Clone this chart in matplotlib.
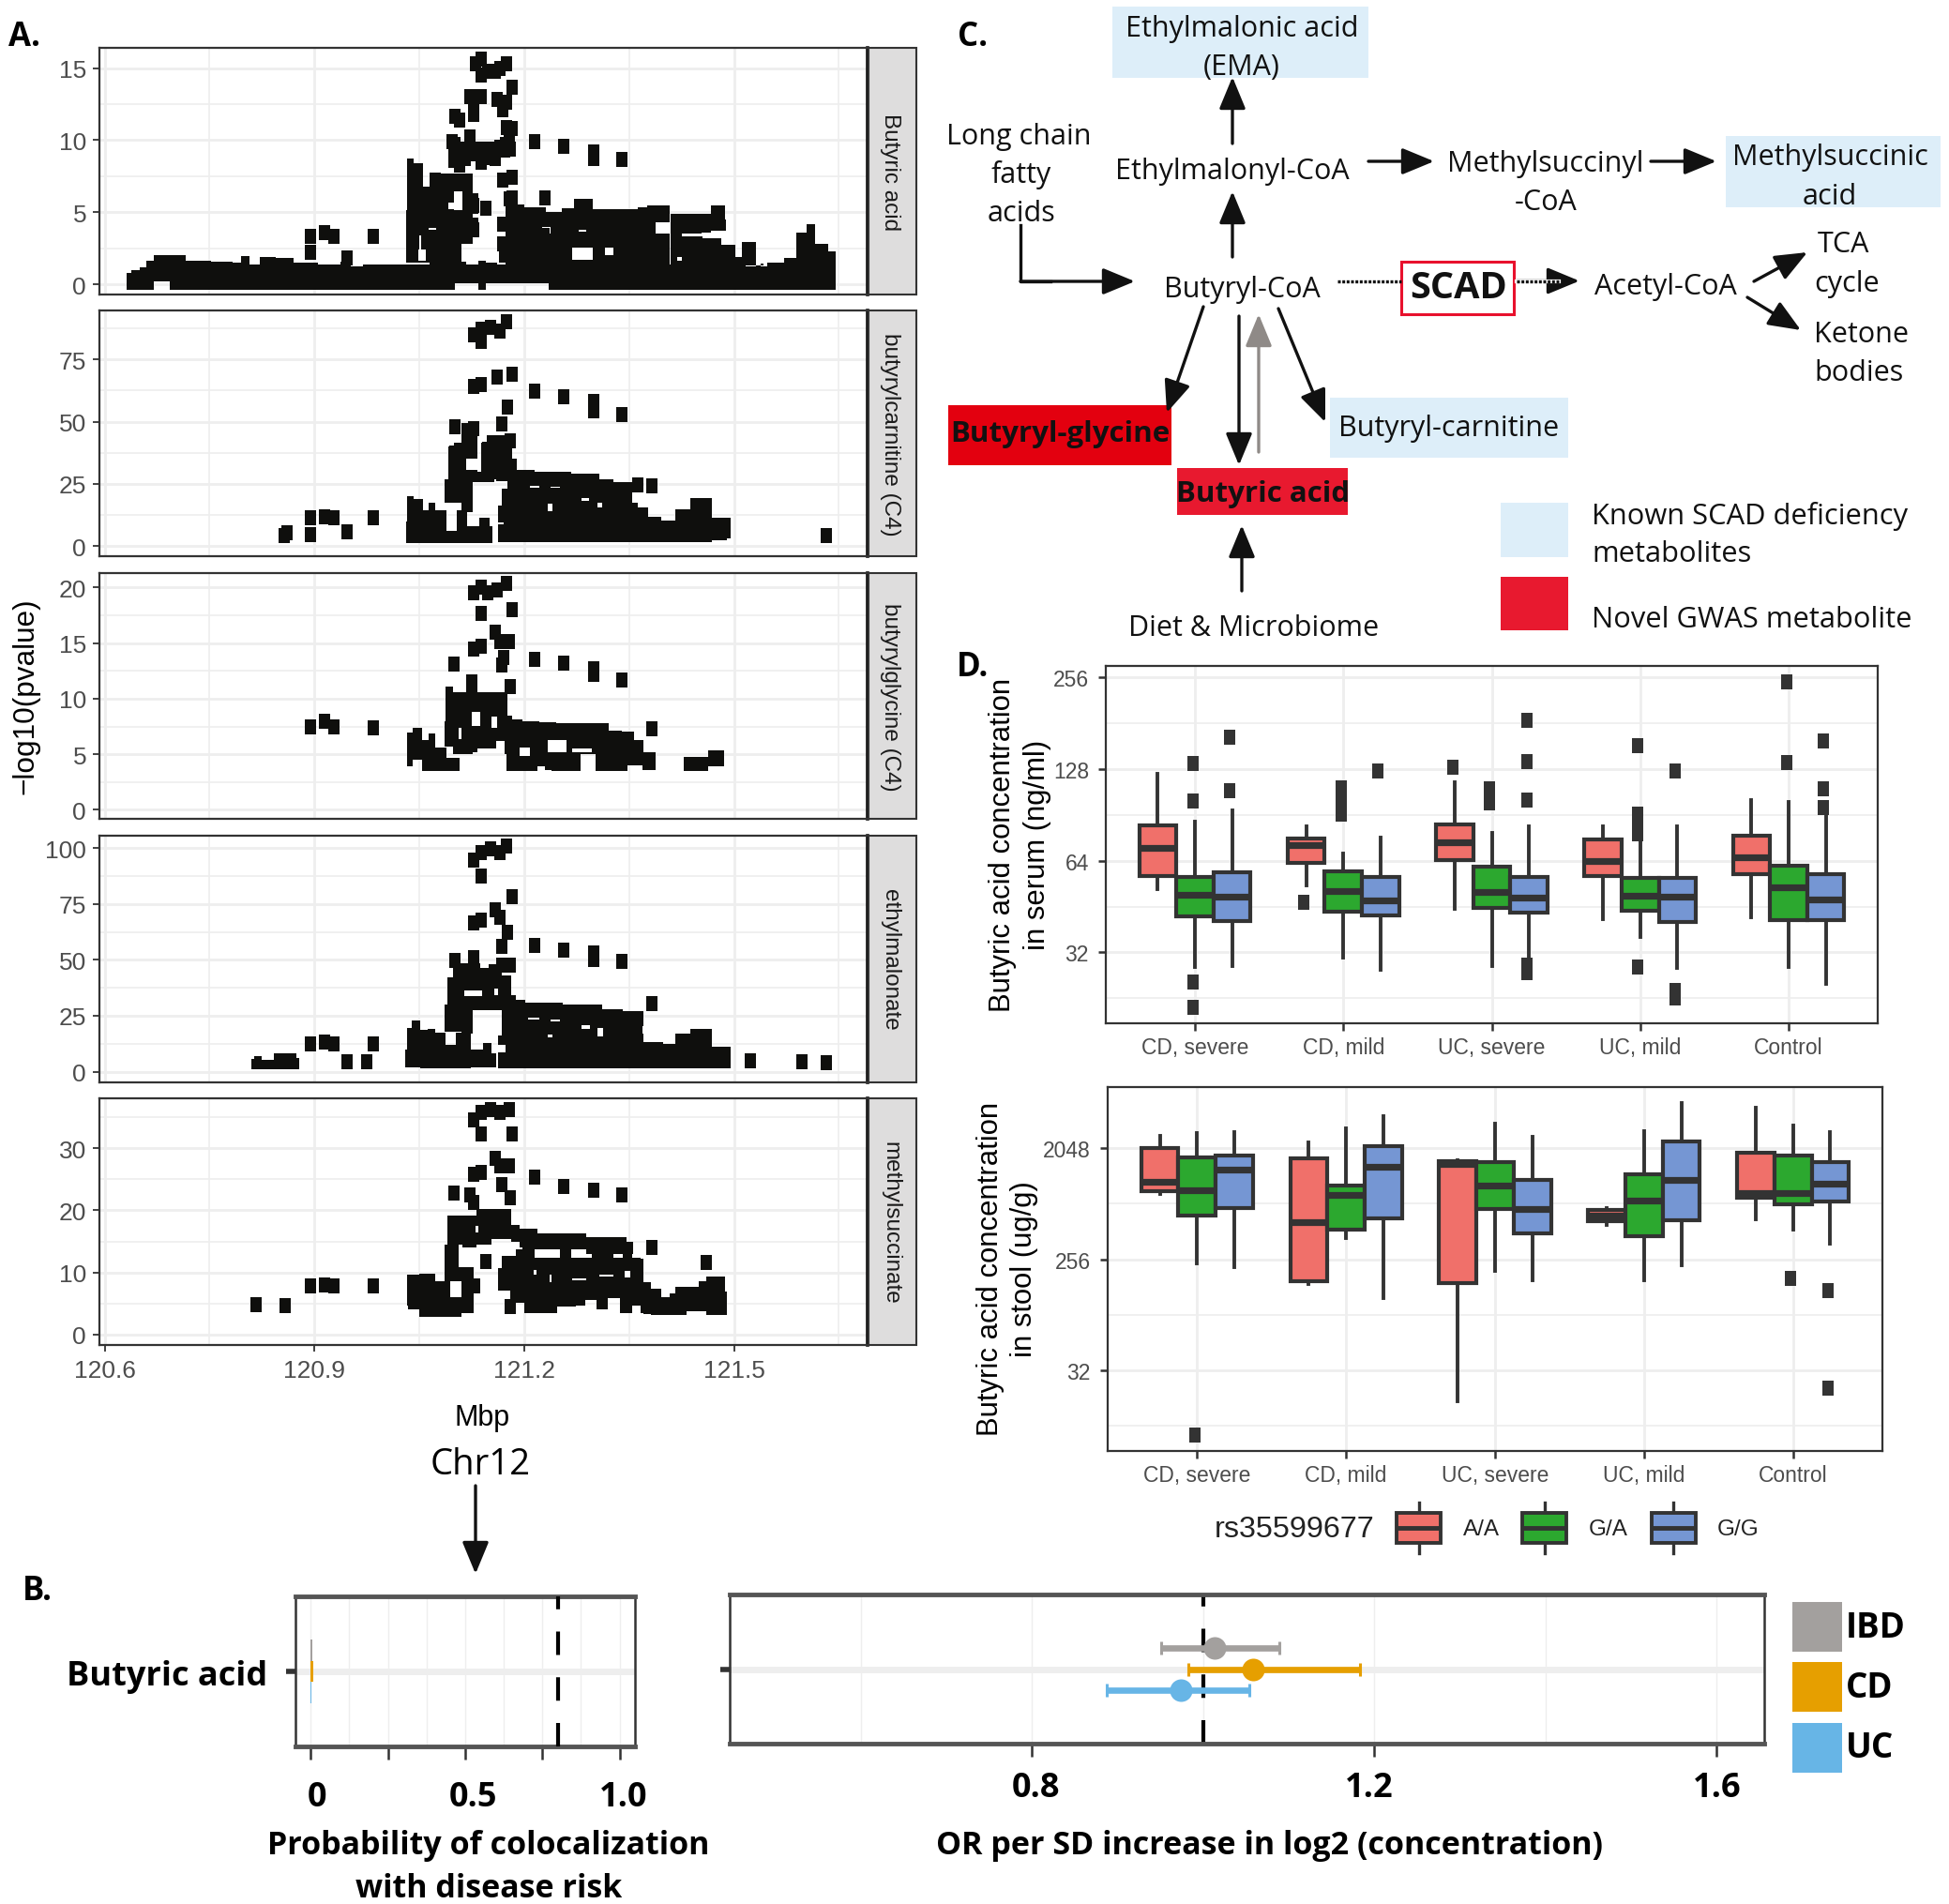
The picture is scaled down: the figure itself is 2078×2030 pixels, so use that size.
import matplotlib
matplotlib.use("Agg")
import matplotlib.pyplot as plt
from matplotlib.patches import FancyArrowPatch, Rectangle

W, H = 2078, 2031
INK = "#0f0f0d"
DARK = "#333333"
GRID = "#eeeeee"
TICK_GRAY = "#4d4d4d"
SANS = "Liberation Sans"
DIAG = "Open Sans"
# tall rectangle used as the point shape in panels A and D
MARK = [(-0.37, -0.5), (0.37, -0.5), (0.37, 0.5), (-0.37, 0.5), (-0.37, -0.5)]

# ---------- panel A: single points that can be told apart ----------
strip_names = ["Butyric acid", "butyrylcarnitine (C4)", "butyrylglycine (C4)", "ethylmalonate", "methylsuccinate"]

p1_x = [121.131, 121.138, 121.138, 121.148, 121.159, 121.165, 121.174, 121.182, 121.122, 121.138, 121.128, 121.128,
        121.161, 121.174, 121.169, 121.101, 121.108, 121.097, 121.101, 121.108, 121.122, 121.127, 121.138, 121.152,
        121.165, 121.178, 121.182, 121.174, 121.159, 121.138, 121.115, 121.145, 121.172, 121.18, 121.169, 121.182,
        121.182, 121.178, 121.23, 121.145, 121.127, 121.127, 121.118, 121.169, 121.169, 121.172, 121.073,
        121.215, 121.256, 121.30, 121.30, 121.339, 120.8945, 120.914, 120.928, 120.984, 120.8945, 120.947]
p1_y = [15.27, 15.65, 14.5, 14.75, 14.75, 15.0, 15.27, 13.7, 13.0, 13.0, 12.3, 11.8,
        12.8, 12.6, 12.1, 11.67, 11.4, 9.9, 9.2, 8.3, 10.25, 9.2, 9.0, 9.1,
        9.5, 9.9, 10.8, 10.9, 8.7, 8.45, 8.7, 9.3, 9.3, 9.4, 7.2, 7.4,
        6.0, 5.9, 6.0, 5.25, 5.5, 3.8, 3.3, 4.2, 2.8, 2.0, 7.2,
        9.87, 9.56, 9.2, 8.7, 8.66, 3.3, 3.57, 3.3, 3.3, 2.2, 1.8]

p2_x = [121.127, 121.138, 121.139, 121.152, 121.165, 121.174, 121.127, 121.138, 121.161, 121.182, 121.215, 121.256,
        121.30, 121.30, 121.339, 121.176, 121.168, 121.101, 121.127, 121.122, 121.101, 121.109, 121.148, 121.161,
        121.18, 121.169, 120.8945, 120.8945,
        120.857, 120.861, 120.914, 120.928, 120.947, 120.984, 121.632, 121.362, 121.382]
p2_y = [85, 82, 87.2, 88, 86.5, 90.2, 64.1, 64.9, 67.9, 69, 62.4, 60.1,
        58.2, 54.5, 52.7, 56, 49, 47.8, 47, 41, 37.4, 33.6, 38.8, 40.3,
        42.3, 33.6, 11.3, 4.6,
        4.3, 5.4, 11.75, 11.3, 5.7, 11.3, 4.3, 24.7, 24.4]

p3_x = [121.127, 121.138, 121.138, 121.148, 121.161, 121.174, 121.182, 121.159, 121.165, 121.178, 121.127, 121.138,
        121.17, 121.168, 121.099, 121.18, 121.215, 121.256, 121.30, 121.30, 121.339, 121.382, 120.8945, 120.914,
        120.928, 120.984]
p3_y = [19.5, 20, 17.7, 19.5, 19.8, 20.4, 18, 16, 15.1, 15.1, 14.5, 14.7,
        13.7, 13, 13.1, 11.1, 13.5, 13.2, 12.7, 12.2, 11.7, 7.3, 7.5, 8,
        7.5, 7.4]

p4_x = [121.127, 121.138, 121.138, 121.152, 121.165, 121.174, 121.182, 121.159, 121.165, 121.127, 121.138, 121.176,
        121.168, 121.101, 121.127, 121.18, 121.168, 121.215, 121.256, 121.30, 121.30, 121.339, 121.382, 121.362,
        120.8945, 120.914, 120.928, 120.984, 120.947, 120.975, 121.523, 121.597, 121.632]
p4_y = [94.5, 97.9, 87.6, 99.5, 98, 100.7, 78.2, 72.2, 69.2, 66.4, 67.6, 62.3,
        55.9, 49.7, 50.8, 47.8, 47.8, 56.6, 54.3, 53, 50.3, 49.4, 30.6, 23.7,
        12.4, 13.3, 12.2, 12.4, 4.4, 4.4, 4.8, 4.4, 4.1]

p5_x = [121.127, 121.138, 121.138, 121.152, 121.165, 121.178, 121.182, 121.159, 121.165, 121.178, 121.127, 121.138,
        121.168, 121.215, 121.256, 121.30, 121.339, 121.18, 121.099, 121.122, 121.127, 121.382, 121.46, 121.145,
        121.18, 120.817, 120.858, 120.8945, 120.914, 120.928, 120.984]
p5_y = [34.5, 35.8, 32.3, 36.2, 35.8, 36.2, 32.3, 28.3, 27.1, 27.1, 25.8, 26.1,
        24.2, 25.4, 23.9, 23.2, 22.4, 22, 22.8, 22.5, 21.3, 14, 11.6, 11.8,
        4.5, 4.8, 4.6, 7.8, 8, 7.8, 7.9]

# ---------- panel A: merged masses of points, as x / low edge / high edge ----------
p1_mass = [
    ([120.632, 120.645, 120.655, 120.665, 120.675, 120.71, 120.722, 120.745, 120.76, 120.775, 120.79, 120.80, 120.815,
      120.83, 120.86, 120.88, 120.93, 120.945, 120.96, 120.98, 121.03, 121.098, 121.104, 121.13, 121.138, 121.152,
      121.17, 121.3, 121.4, 121.5, 121.533, 121.563, 121.58, 121.597, 121.61, 121.623, 121.646],
     [-0.39, -0.39, -0.39, -0.39, 0.2, -0.39, -0.39, -0.39, -0.39, -0.39, -0.39, -0.39, -0.39,
      -0.39, -0.39, -0.39, -0.39, -0.39, -0.39, -0.39, -0.39, -0.39, 0.1, 0.1, -0.39, 0.05,
      0.05, -0.39, -0.39, -0.39, -0.39, -0.39, -0.39, -0.39, -0.39, -0.39, -0.39],
     [0.8, 0.95, 1.2, 1.6, 2.0, 2.0, 1.6, 1.65, 1.55, 1.55, 1.5, 1.95, 1.4,
      1.9, 1.85, 1.5, 1.35, 1.55, 1.25, 1.4, 1.4, 1.5, 1.56, 1.4, 1.66, 1.5,
      1.4, 1.4, 1.4, 1.3, 1.23, 1.5, 1.8, 3.6, 4.2, 2.8, 2.3]),
    ([121.031, 121.034, 121.05, 121.061, 121.092, 121.11],
     [1.5, 1.5, 1.5, 1.5, 1.5, 1.5],
     [5.13, 8.7, 8.4, 6.75, 7.7, 7.7]),
    ([121.11, 121.126], [3.1, 3.1], [7.7, 7.7]),
    ([121.126, 121.135], [4.9, 4.9], [6.3, 6.3]),
    ([121.126, 121.135], [3.6, 3.6], [4.6, 4.6]),
    ([121.092, 121.125, 121.15, 121.18], [8.1, 8.5, 8.3, 9], [10.2, 9.9, 9.9, 10.2]),
    ([121.173, 121.193, 121.206, 121.22, 121.242, 121.2645, 121.278, 121.291, 121.305, 121.354, 121.372, 121.3787,
      121.4078],
     [1.3] * 13,
     [5.9, 5.56, 5.35, 5.35, 5.0, 5.28, 5.9, 5.9, 5.2, 5.2, 5.35, 5.45, 5.45]),
    ([121.41, 121.441, 121.466, 121.468, 121.486, 121.488],
     [3.5, 3.5, 3.6, 3.7, 3.7, 3.7],
     [4.9, 4.9, 4.9, 5.45, 5.45, 4.5]),
    ([121.41, 121.441, 121.468, 121.495, 121.508, 121.515, 121.531, 121.533, 121.542],
     [1.3] * 9,
     [3.5, 3.3, 3.2, 2.75, 1.9, 2.96, 2.96, 1.23, 1.45]),
]
p1_holes = [(121.099, 121.112, 5.13, 6.43), (121.091, 121.106, 5.24, 5.67), (121.05, 121.052, 1.6, 3.4),
            (121.048, 121.059, 1.6, 2.4), (121.388, 121.41, 3.5, 4.33), (121.269, 121.298, 1.67, 2.53),
            (121.316, 121.327, 2.0, 2.53), (121.419, 121.425, 1.62, 1.88), (121.226, 121.237, 3.9, 4.0),
            (121.236, 121.238, 3.5, 4.0), (121.278, 121.289, 3.68, 3.78), (121.063, 121.074, 3.78, 3.88)]

p2_mass = [
    ([121.031, 121.034, 121.05, 121.061, 121.0655, 121.081, 121.097, 121.11, 121.126, 121.146, 121.155],
     [1.3] * 11,
     [10, 20.1, 18.8, 14.4, 17.3, 14.4, 6.3, 14.4, 8.2, 11.3, 8]),
    ([121.0856, 121.112], [17.6, 17.6], [27, 27]),
    ([121.11, 121.126], [13.8, 13.8], [27, 27]),
    ([121.11, 121.14, 121.175], [25.7, 25.7, 26.9], [30, 30, 30]),
    ([121.092, 121.106, 121.1146, 121.1326], [27, 27, 27, 27], [40.2, 41.4, 49.6, 49.6]),
    ([121.139, 121.153, 121.182], [30, 30, 34.5], [41.4, 44.5, 44.5]),
    ([121.16, 121.19], [26, 26], [35, 35]),
    ([121.162, 121.173, 121.18, 121.193, 121.238, 121.296, 121.318, 121.336, 121.354],
     [1.5] * 9,
     [16.3, 23.2, 31, 30.5, 29.9, 29.1, 27, 25.7, 25.7]),
    ([121.354, 121.372, 121.383, 121.41, 121.423, 121.452, 121.484, 121.495],
     [1.5, 1.5, 1.5, 1.5, 1.5, 1.5, 2.5, 3],
     [17.6, 15.7, 11.9, 10.3, 15, 19.5, 11.3, 11.3]),
]
p2_holes = [(121.117, 121.135, 30.8, 35.1), (121.233, 121.24, 14, 17), (121.282, 121.293, 18.3, 19.2),
            (121.305, 121.312, 15.7, 17.3), (121.162, 121.17, 8.9, 9.5), (121.2086, 121.222, 23.6, 24.2),
            (121.2375, 121.251, 23.5, 24)]

p3_mass = [
    ([121.032, 121.034, 121.0476, 121.061, 121.0655, 121.081, 121.097, 121.108],
     [3.9, 3.9, 4.54, 3.47, 3.47, 3.47, 3.47, 3.47],
     [5.44, 6.98, 7.4, 6.3, 6.85, 5.6, 4.7, 4.7]),
    ([121.0856, 121.09, 121.1057, 121.1124, 121.121, 121.1326, 121.1348, 121.1527, 121.168, 121.175],
     [5.7, 5.7, 5, 5, 5, 5.2, 5.5, 5.5, 6.2, 5],
     [8, 11.07, 10.6, 10.6, 12.2, 12.2, 10.6, 10.6, 10.6, 10.6]),
    ([121.175, 121.1773, 121.1885, 121.206, 121.2377, 121.253, 121.318, 121.3227, 121.356, 121.3585, 121.3697,
      121.372, 121.3876],
     [5] * 13,
     [10.6, 8.5, 8.17, 7.97, 7.9, 7.83, 7.83, 7.1, 7.05, 6.3, 6.3, 5.1, 5.1]),
    ([121.175, 121.2153, 121.222, 121.2377, 121.24, 121.2668, 121.2936, 121.3115, 121.343, 121.3518, 121.3876],
     [3.47, 3.47, 3.9, 3.6, 3.53, 3.53, 5, 3.47, 3.47, 4, 3.6],
     [5.2] * 11),
    ([121.428, 121.461, 121.466, 121.486], [3.53, 3.53, 3.9, 3.9], [4.74, 4.74, 5.35, 5.35]),
]
p3_holes = [(121.125, 121.137, 7.55, 8.8), (121.1527, 121.1617, 7.4, 8.4), (121.193, 121.2086, 4.82, 5.6),
            (121.233, 121.26, 5.16, 6.28), (121.269, 121.296, 5.16, 5.5), (121.106, 121.11, 6.4, 7.4)]

p4_mass = [
    ([120.81, 120.818, 120.831, 120.853, 120.87, 120.878], [0.9] * 6, [5.5, 7.1, 5.3, 8.3, 8.3, 6]),
    ([121.03, 121.0352, 121.043, 121.0588, 121.0655, 121.081, 121.0945, 121.11, 121.137, 121.146, 121.1595],
     [2, 2, 2, 1.5, 1.5, 1.5, 1.5, 1.5, 2, 2, 2],
     [10, 19.7, 22.8, 18.8, 19.3, 17.6, 12, 17.6, 10, 12.7, 8]),
    ([121.0856, 121.11], [18, 18], [30.2, 30.2]),
    ([121.11, 121.126], [17, 17], [30, 30]),
    ([121.09, 121.106, 121.1348, 121.139, 121.1595, 121.175, 121.1885],
     [27.4, 27.4, 27.4, 27.4, 27.4, 27.4, 27.4],
     [42, 48.3, 48.3, 46.2, 48, 43, 34]),
    ([121.162, 121.173, 121.1885, 121.2155, 121.296, 121.327, 121.354, 121.3697],
     [1.5] * 8,
     [16, 29.5, 32.3, 30.9, 29.8, 27.8, 27, 26]),
    ([121.354, 121.3877, 121.41, 121.423, 121.452, 121.484, 121.495],
     [1.5] * 7,
     [16.9, 13.4, 12.4, 16.9, 19.3, 11.3, 11.3]),
]
p4_holes = [(121.1147, 121.1393, 33.7, 36.5), (121.157, 121.1625, 34.4, 37), (121.206, 121.222, 23.2, 24),
            (121.2377, 121.251, 22.5, 23.5), (121.2825, 121.2937, 19, 20.8), (121.305, 121.313, 15.8, 19.7),
            (121.233, 121.24, 15.2, 16.5), (121.1617, 121.173, 8.8, 12)]

p5_mass = [
    ([121.032, 121.036, 121.065, 121.081], [4.6, 4.1, 2.9, 2.9], [9.67, 9.67, 9.8, 8.66]),
    ([121.0945, 121.11], [8.66, 8.66], [10.9, 10.9]),
    ([121.0945, 121.11], [2.9, 2.9], [6.1, 6.1]),
    ([121.081, 121.0945], [2.9, 2.9], [8.66, 8.66]),
    ([121.0856, 121.0945], [8.5, 8.5], [10.9, 10.9]),
    ([121.11, 121.128], [3.5, 3.5], [10.9, 10.9]),
    ([121.128, 121.137], [6.6, 6.6], [9, 9]),
    ([121.0856, 121.106], [10.9, 10.9], [14.5, 14.5]),
    ([121.09, 121.132, 121.1326, 121.173, 121.1885, 121.197],
     [14.5, 14, 14.5, 15.4, 15, 14],
     [19.2, 19.2, 20.2, 20.2, 17.7, 17]),
    ([121.197, 121.242, 121.336, 121.356], [13.7, 13.7, 13.0, 12.9], [17, 16.3, 15.7, 15]),
    ([121.162, 121.175, 121.184, 121.193, 121.206, 121.2243, 121.269, 121.279, 121.296, 121.3115, 121.327, 121.347,
      121.363, 121.3697, 121.372, 121.39, 121.403, 121.412, 121.421, 121.444, 121.455, 121.466, 121.484, 121.49],
     [7.15, 7.15, 5.1, 5.1, 3.4, 3.4, 4.5, 4.6, 5.6, 4.1, 5.9, 3.4, 4.6, 3.4, 3.3, 3.1, 3.1, 3.1, 3.1, 3.7, 3.7, 3.1,
      3.1, 3.1],
     [10.7, 12.7, 12.7, 13.7, 13.7, 12.3, 12.3, 12.3, 12.3, 12.3, 12.3, 12.3, 12.3, 12.2, 8.4, 7.4, 6.1, 6.65, 7.65,
      7.65, 8.56, 9.4, 9.4, 6.9]),
    # joins between the upper strand and the lower mass
    ([121.251, 121.267], [12, 12], [14, 14]),
    ([121.296, 121.327], [12, 12], [13.6, 13.6]),
    ([121.341, 121.354], [12, 12], [13.4, 13.4]),
]
p5_holes = [(121.213, 121.2175, 9.7, 10.4), (121.2364, 121.239, 8.4, 9.7), (121.269, 121.289, 8.8, 9.1),
            (121.307, 121.327, 9.3, 9.7), (121.343, 121.352, 9.2, 10.2), (121.13, 121.135, 16.4, 17.5)]

p_points = [(p1_x, p1_y), (p2_x, p2_y), (p3_x, p3_y), (p4_x, p4_y), (p5_x, p5_y)]
p_masses = [p1_mass, p2_mass, p3_mass, p4_mass, p5_mass]
p_holes = [p1_holes, p2_holes, p3_holes, p4_holes, p5_holes]
p_ticks = [[0, 5, 10, 15], [0, 25, 50, 75], [0, 5, 10, 15, 20], [0, 25, 50, 75, 100], [0, 10, 20, 30]]
p_minor = [[2.5, 7.5, 12.5], [12.5, 37.5, 62.5, 87.5], [2.5, 7.5, 12.5, 17.5], [12.5, 37.5, 62.5, 87.5],
           [5, 15, 25, 35]]
p_ylim = [(-0.71, 16.4), (-4, 94.6), (-0.81, 21.3), (-4.8, 105.5), (-1.66, 38)]
p_box = [(52, 315), (332, 594), (612, 874), (892, 1155), (1172, 1435)]
mbp_ticks = [120.6, 120.9, 121.2, 121.5]
mbp_minor = [120.75, 121.05, 121.35, 121.65]

# ---------- panel B ----------
coloc_names = ["IBD", "CD", "UC"]
coloc_prob = [0.004, 0.008, 0.003]
or_est = [1.013, 1.058, 0.974]
or_low = [0.951, 0.983, 0.887]
or_high = [1.0885, 1.183, 1.054]
cohort_cols = ["#a3a09e", "#e69f00", "#67b5e6"]

# ---------- panel D: log2 concentration, three genotypes per group ----------
groups = ["CD, severe", "CD, mild", "UC, severe", "UC, mild", "Control"]
genotypes = ["A/A", "G/A", "G/G"]
geno_cols = ["#f0706a", "#2ca82f", "#7596d3"]

serum_hi = [6.95, 6.43, 6.55, 6.38, 6.08, 6.25, 6.86, 6.30, 6.38, 6.37, 6.32, 6.38, 6.66, 6.64, 6.49]
serum_q3 = [6.39, 5.82, 5.87, 6.24, 5.88, 5.82, 6.40, 5.94, 5.82, 6.23, 5.81, 5.81, 6.27, 5.95, 5.85]
serum_med = [6.14, 5.63, 5.61, 6.17, 5.67, 5.57, 6.20, 5.66, 5.60, 6.00, 5.62, 5.61, 6.04, 5.71, 5.58]
serum_q1 = [5.83, 5.39, 5.34, 5.98, 5.44, 5.40, 6.01, 5.49, 5.43, 5.83, 5.45, 5.33, 5.85, 5.35, 5.35]
serum_lo = [5.69, 4.84, 4.85, 5.73, 4.94, 4.81, 5.47, 4.85, 4.93, 5.36, 5.17, 4.83, 5.38, 4.84, 4.66]
serum_out = [[], [7.06, 6.65, 4.68, 4.40], [7.35, 6.76],
             [5.55], [6.79, 6.63, 6.51], [6.98],
             [7.02], [6.78, 6.63], [7.53, 7.08, 6.66, 4.86, 4.78],
             [], [7.25, 6.51, 6.38, 6.29, 4.84], [6.98, 4.59, 4.50],
             [], [7.95, 7.07], [7.31, 6.78, 6.58]]

stool_hi = [11.32, 11.41, 11.43, 11.15, 11.54, 11.87, 10.67, 11.67, 11.31, 9.39, 11.45, 12.21, 12.09, 11.61, 11.44]
stool_q3 = [11.00, 10.74, 10.80, 10.72, 10.00, 11.06, 10.65, 10.63, 10.13, 9.32, 10.29, 11.17, 10.88, 10.81, 10.62]
stool_med = [10.10, 9.86, 10.43, 9.01, 9.73, 10.49, 10.58, 10.00, 9.35, 9.17, 9.58, 10.15, 9.78, 9.79, 10.05]
stool_q1 = [9.83, 9.17, 9.38, 7.40, 8.81, 9.10, 7.35, 9.35, 8.71, 9.02, 8.63, 9.05, 9.67, 9.49, 9.55]
stool_lo = [9.77, 7.88, 7.79, 7.33, 8.56, 6.95, 4.17, 7.69, 7.43, 8.92, 7.43, 7.83, 9.09, 8.79, 8.42]
stool_out = [[], [3.26], [],
             [], [], [],
             [], [], [],
             [], [], [],
             [], [7.47], [7.14, 4.53]]

# ---------- panel C: boxes (left, top, right, bottom, colour) ----------
LIGHT_BLUE = "#ddeef9"
diagram_boxes = [
    (1186, 8, 1459, 83.5, LIGHT_BLUE), (1840, 146, 2069, 222, LIGHT_BLUE), (1418, 425, 1672, 489, LIGHT_BLUE),
    (1011, 433, 1249, 497, "#e3000f"), (1255, 500, 1437, 550, "#e8192f"),
    (1599.5, 537, 1672, 595, LIGHT_BLUE), (1599.5, 616, 1672, 673, "#e8192f"),
]
diagram_labels = [
    ("Ethylmalonic acid", 1324, 31), ("(EMA)", 1324, 72), ("Long chain", 1086, 146), ("fatty", 1089, 186),
    ("acids", 1089, 228), ("Ethylmalonyl-CoA", 1313.5, 183), ("Methylsuccinyl", 1648, 175), ("-CoA", 1648, 216),
    ("Methylsuccinic", 1951, 168), ("acid", 1951, 210), ("TCA", 1965, 261), ("cycle", 1969, 303),
    ("Ketone", 1984.5, 357), ("bodies", 1982, 398), ("Butyryl-CoA", 1324, 309), ("Acetyl-CoA", 1775.5, 306),
    ("Butyryl-carnitine", 1545, 457), ("Diet & Microbiome", 1337, 670),
]
diagram_bold = [("Butyryl-glycine", 1130, 463), ("Butyric acid", 1347, 527)]
diagram_arrows = [
    (1314, 154, 1314, 83), (1314, 275, 1314, 205), (1459, 173, 1529, 173), (1760, 173, 1830, 173),
    (1088, 301, 1210, 301), (1617, 300.5, 1684, 300.5), (1870, 301, 1927, 270), (1863, 318, 1920, 353),
    (1283, 328, 1244, 441), (1321, 338, 1321, 497), (1363, 330, 1413, 451), (1324, 631, 1324, 561),
]


def px_axes(left, top, right, bottom):
    return fig.add_axes([left / W, 1 - bottom / H, (right - left) / W, (bottom - top) / H])


def style_frame(ax, lw=1.6):
    for s in ax.spines.values():
        s.set_color(DARK)
        s.set_linewidth(lw)
    ax.set_axisbelow(True)


def draw_boxes(ax, hi, q3, med, q1, lo, out):
    for k in range(15):
        g, j = divmod(k, 3)
        pos = g + (j - 1) * 0.25
        stat = dict(med=med[k], q1=q1[k], q3=q3[k], whislo=lo[k], whishi=hi[k], fliers=[])
        ax.bxp([stat], positions=[pos], widths=[0.25], patch_artist=True, showcaps=False, showfliers=False,
               manage_ticks=False,
               boxprops=dict(facecolor=geno_cols[j], edgecolor=DARK, linewidth=3),
               medianprops=dict(color=DARK, linewidth=5.2, solid_capstyle="butt"),
               whiskerprops=dict(color=DARK, linewidth=2.8))
        if out[k]:
            ax.scatter([pos - 0.015] * len(out[k]), out[k], marker=MARK, s=117, color=DARK, linewidths=0, zorder=4)


def style_conc(ax, major, labels, minor, ylim):
    ax.set_xlim(-0.6, 4.6)
    ax.set_ylim(*ylim)
    ax.set_xticks(range(5))
    ax.set_xticklabels(groups, fontsize=16.5, color=TICK_GRAY, family=SANS)
    ax.set_yticks(major)
    ax.set_yticklabels(labels, fontsize=16.5, color=TICK_GRAY, family=SANS)
    ax.set_yticks(minor, minor=True)
    ax.grid(True, which="major", color=GRID, lw=2)
    ax.grid(True, which="minor", axis="y", color=GRID, lw=1.2)
    ax.tick_params(axis="x", which="major", length=6, width=1.8, color=DARK, pad=4)
    ax.tick_params(axis="y", which="major", length=6, width=1.8, color=DARK, pad=7)
    ax.tick_params(axis="y", which="minor", length=0)
    style_frame(ax)


fig = plt.figure(figsize=(W / 100, H / 100), dpi=100)

# panel A
for i in range(5):
    top, bottom = p_box[i]
    ax = px_axes(106, top, 925, bottom)
    ax.set_xlim(120.5925, 121.691)
    ax.set_ylim(*p_ylim[i])
    ax.set_xticks(mbp_ticks)
    ax.set_xticks(mbp_minor, minor=True)
    ax.set_yticks(p_ticks[i])
    ax.set_yticks(p_minor[i], minor=True)
    ax.grid(True, which="major", color=GRID, lw=2)
    ax.grid(True, which="minor", color=GRID, lw=1.2)
    ax.tick_params(axis="both", which="minor", length=0)
    ax.tick_params(axis="both", which="major", length=5, width=1.3, color=DARK, labelsize=19,
                   labelcolor=TICK_GRAY, pad=5)
    for lab in ax.get_yticklabels() + ax.get_xticklabels():
        lab.set_family(SANS)
    if i < 4:
        ax.tick_params(axis="x", which="major", length=0, labelbottom=False)
    else:
        ax.tick_params(axis="x", pad=6)
    style_frame(ax)
    ax.spines["right"].set_linewidth(2.6)
    ax.spines["right"].set_color("#111111")
    for mx, mlo, mhi in p_masses[i]:
        ax.fill_between(mx, mlo, mhi, step="mid", color=INK, linewidth=0, zorder=3)
    for x0, x1, y0, y1 in p_holes[i]:
        ax.fill_between([x0, x1], y0, y1, color="white", linewidth=0, zorder=3.2)
    ax.scatter(p_points[i][0], p_points[i][1], marker=MARK, s=117, color=INK, linewidths=0, zorder=3.5)

# panel B left: colocalization probability
ax = px_axes(315.4, 1703, 677, 1863)
ax.set_xlim(-0.048, 1.05)
ax.set_ylim(0.4, 1.6)
for k in range(3):
    ax.barh(1 + (1 - k) * 0.17, coloc_prob[k], height=0.17, color=cohort_cols[k], zorder=3)
ax.axvline(0.8, color="black", lw=3, linestyle=(0, (6, 5.7)), zorder=4)
ax.set_xticks([0, 0.25, 0.5, 0.75, 1.0])
ax.set_xticks([0.125, 0.375, 0.625, 0.875], minor=True)
ax.set_xticklabels([])
ax.set_yticks([1])
ax.set_yticklabels([])
ax.grid(True, which="major", axis="y", color=GRID, lw=5)
ax.grid(True, which="both", axis="x", color=GRID, lw=1)
ax.tick_params(axis="x", which="major", length=10, width=1.8, color=DARK)
ax.tick_params(axis="x", which="minor", length=0)
ax.tick_params(axis="y", length=7, width=4, color=DARK)
style_frame(ax, 1.8)
ax.spines["top"].set_linewidth(3.5)
ax.spines["bottom"].set_linewidth(3.5)
ax.spines["top"].set_color("#555555")
ax.spines["bottom"].set_color("#555555")

# panel B right: odds ratios
ax = px_axes(778, 1700.7, 1880.6, 1860)
ax.set_xlim(0.447, 1.655)
ax.set_ylim(0.404, 1.6)
for k in range(3):
    yy = 1 + (1 - k) * 0.17
    ax.errorbar(or_est[k], yy, xerr=[[or_est[k] - or_low[k]], [or_high[k] - or_est[k]]], color=cohort_cols[k],
                elinewidth=4.8, capsize=5, capthick=2.2, zorder=3)
    ax.scatter(or_est[k], yy, s=300, color=cohort_cols[k], linewidths=0, zorder=4)
ax.axvline(1.0, color="black", lw=3, linestyle=(0, (6, 5.7)), zorder=2)
ax.set_xticks([0.8, 1.2, 1.6])
ax.set_xticks([0.6, 1.0, 1.4], minor=True)
ax.set_xticklabels([])
ax.set_yticks([1])
ax.set_yticklabels([])
ax.grid(True, which="major", axis="y", color=GRID, lw=5)
ax.grid(True, which="both", axis="x", color=GRID, lw=1)
ax.tick_params(axis="x", which="major", length=10, width=1.8, color=DARK)
ax.tick_params(axis="x", which="minor", length=0)
ax.tick_params(axis="y", length=7, width=4, color=DARK)
style_frame(ax, 1.8)
ax.spines["top"].set_linewidth(3.5)
ax.spines["bottom"].set_linewidth(3.5)
ax.spines["top"].set_color("#555555")
ax.spines["bottom"].set_color("#555555")

# panel D
ax = px_axes(1179, 711, 2002, 1092)
draw_boxes(ax, serum_hi, serum_q3, serum_med, serum_q1, serum_lo, serum_out)
style_conc(ax, [5, 6, 7, 8], ["32", "64", "128", "256"], [4.5, 5.5, 6.5, 7.5], (4.227, 8.124))

ax = px_axes(1181, 1160, 2007, 1548)
draw_boxes(ax, stool_hi, stool_q3, stool_med, stool_q1, stool_lo, stool_out)
style_conc(ax, [5, 8, 11], ["32", "256", "2048"], [3.5, 6.5, 9.5], (2.82, 12.65))

# overlay in pixel coordinates: strips, panel C, labels
ov = fig.add_axes([0, 0, 1, 1], zorder=10)
ov.set_xlim(0, W)
ov.set_ylim(H, 0)
ov.axis("off")
ov.patch.set_alpha(0)

for i in range(5):
    top, bottom = p_box[i]
    ov.add_patch(Rectangle((926, top), 51, bottom - top, facecolor="#dedddd", edgecolor=DARK, lw=1.5))
    ov.text(949, (top + bottom) / 2, strip_names[i], rotation=-90, ha="center", va="center", family=SANS,
            fontsize=17.5, color="#1a1a1a")

ov.text(27, 742, "\u2212log10(pvalue)", rotation=90, ha="center", va="center", family=SANS, fontsize=22.7)
ov.text(514, 1512, "Mbp", ha="center", va="center", family=SANS, fontsize=22)
ov.text(512, 1562, "Chr12", ha="center", va="center", family=DIAG, fontsize=27.5)

for name, x, y in [("A.", 26, 40), ("B.", 40, 1697), ("C.", 1037, 40), ("D.", 1037, 712)]:
    ov.text(x, y, name, ha="center", va="center", family=DIAG, fontweight="bold", fontsize=25)

for left, top, right, bottom, col in diagram_boxes:
    ov.add_patch(Rectangle((left, top), right - left, bottom - top, facecolor=col, edgecolor="none"))
ov.add_patch(Rectangle((1494, 280), 120, 56, facecolor="white", edgecolor="#e8112d", lw=2.2))
ov.text(1555, 307, "SCAD", ha="center", va="center", family=DIAG, fontweight="bold", fontsize=28.5, color="#111111")

for txt, x, y in diagram_labels:
    ov.text(x, y, txt, ha="center", va="center", family=DIAG, fontsize=22, color="#111111")
for txt, x, y in diagram_bold:
    ov.text(x, y, txt, ha="center", va="center", family=DIAG, fontweight="bold", fontsize=22.5, color="#111111")
ov.text(1697, 550, "Known SCAD deficiency", ha="left", va="center", family=DIAG, fontsize=22.2, color="#111111")
ov.text(1697, 591, "metabolites", ha="left", va="center", family=DIAG, fontsize=22.2, color="#111111")
ov.text(1697, 661, "Novel GWAS metabolite", ha="left", va="center", family=DIAG, fontsize=22.2, color="#111111")

arrow_style = "-|>,head_length=1.5,head_width=0.62"
for x0, y0, x1, y1 in diagram_arrows:
    ov.add_patch(FancyArrowPatch((x0, y0), (x1, y1), arrowstyle=arrow_style, mutation_scale=14, color="#111111",
                                 lw=2.4, shrinkA=0, shrinkB=0))
ov.add_patch(FancyArrowPatch((1342, 483), (1342, 336), arrowstyle=arrow_style, mutation_scale=14, color="#8f8a87",
                             lw=2.4, shrinkA=0, shrinkB=0))
ov.plot([1088, 1088, 1120], [241, 301, 301], color="#111111", lw=2.4)
ov.plot([1426, 1494], [300.5, 300.5], color="#111111", lw=2.4, linestyle=(0, (0.9, 0.5)))
ov.plot([1617, 1662], [300.5, 300.5], color="white", lw=3)
ov.plot([1617, 1662], [300.5, 300.5], color="#111111", lw=2.4, linestyle=(0, (0.9, 0.5)))
ov.add_patch(FancyArrowPatch((507, 1585), (507, 1679), arrowstyle=arrow_style, mutation_scale=14, color="#111111",
                             lw=2.4, shrinkA=0, shrinkB=0))

# panel B texts
ov.text(285, 1788, "Butyric acid", ha="right", va="center", family=DIAG, fontweight="bold", fontsize=26)
for txt, x in [("0", 338), ("0.5", 504), ("1.0", 665)]:
    ov.text(x, 1917, txt, ha="center", va="center", family=DIAG, fontweight="bold", fontsize=26)
for txt, x in [("0.8", 1104), ("1.2", 1460), ("1.6", 1831)]:
    ov.text(x, 1907, txt, ha="center", va="center", family=DIAG, fontweight="bold", fontsize=26)
ov.text(521, 1968, "Probability of colocalization", ha="center", va="center", family=DIAG, fontweight="bold",
        fontsize=24.5)
ov.text(521, 2014, "with disease risk", ha="center", va="center", family=DIAG, fontweight="bold", fontsize=24.5)
ov.text(1353, 1968, "OR per SD increase in log2 (concentration)", ha="center", va="center", family=DIAG,
        fontweight="bold", fontsize=24.5)
for k, (top, bottom, ty) in enumerate([(1709, 1762, 1736), (1773, 1826, 1800), (1838, 1891, 1864)]):
    ov.add_patch(Rectangle((1911, top), 53, bottom - top, facecolor=cohort_cols[k], edgecolor="none"))
    ov.text(1968, ty, coloc_names[k], ha="left", va="center", family=DIAG, fontweight="bold", fontsize=26.5)

# panel D labels and shared legend
ov.text(1069, 901, "Butyric acid concentration", rotation=90, ha="center", va="center", family=SANS, fontsize=22.3)
ov.text(1106, 901, "in serum (ng/ml)", rotation=90, ha="center", va="center", family=SANS, fontsize=22.3)
ov.text(1056, 1353, "Butyric acid concentration", rotation=90, ha="center", va="center", family=SANS, fontsize=22.3)
ov.text(1092, 1353, "in stool (ug/g)", rotation=90, ha="center", va="center", family=SANS, fontsize=22.3)
ov.text(1380, 1631, "rs35599677", ha="center", va="center", family=SANS, fontsize=23.3, color="#222222")
for j, (left, tx) in enumerate([(1489, 1579), (1623, 1715), (1760.5, 1853.5)]):
    cx = left + 23.5
    ov.plot([cx, cx], [1603, 1656.5], color=DARK, lw=2.4)
    ov.add_patch(Rectangle((left, 1613.5), 47, 32.5, facecolor=geno_cols[j], edgecolor=DARK, lw=2.8, zorder=3))
    ov.plot([left, left + 47], [1630, 1630], color=DARK, lw=3.5, solid_capstyle="butt", zorder=4)
    ov.text(tx, 1631, genotypes[j], ha="center", va="center", family=SANS, fontsize=17.5, color="#222222")

fig.savefig("out.png", dpi=100, facecolor="white")
